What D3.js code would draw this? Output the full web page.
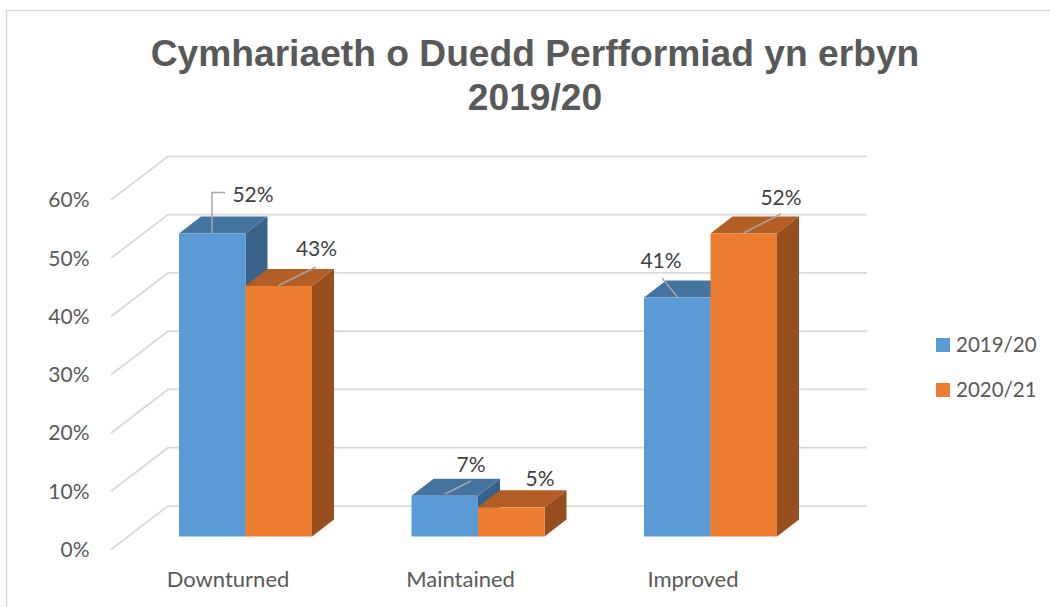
<!DOCTYPE html>
<html><head><meta charset="utf-8">
<script src="https://cdn.jsdelivr.net/npm/d3@7"></script>
<style>html,body{margin:0;padding:0;background:#fff}svg{display:block}text{font-family:Lato,"Open Sans",sans-serif}</style>
</head><body><svg id="c" width="1050" height="607"></svg>
<script>
const titleLines = ["Cymhariaeth o Duedd Perfformiad yn erbyn", "2019/20"];
const categories = ["Downturned", "Maintained", "Improved"];
const seriesNames = ["2019/20", "2020/21"];
const values2019 = [0.52, 0.07, 0.41];
const values2020 = [0.43, 0.05, 0.52];
const ticks = [0, 0.1, 0.2, 0.3, 0.4, 0.5, 0.6];
const colors = {"2019/20": ["#5b9bd5", "#44749f", "#386288"], "2020/21": ["#ed7d31", "#b25e25", "#974f1f"]};

const svg = d3.select("#c");
const x = d3.scaleBand().domain(categories).range([129.25, 826.75]).paddingInner(0.428).paddingOuter(0.214);
const xs = d3.scaleBand().domain(seriesNames).range([0, x.bandwidth()]);
const y = d3.scaleLinear().domain([0, 0.6]).range([536.5, 186.9]);
const dx = 22, dy = 17;

// frame
svg.append("path").attr("d", "M6.5 607V10.5H1050").attr("fill", "none").attr("stroke", "#d9d9d9").attr("stroke-width", 1.5);

// title
svg.append("g").selectAll("text").data(titleLines).join("text")
  .attr("x", 535).attr("y", (d, i) => 65.5 + i * 44.5).attr("text-anchor", "middle")
  .style("font-family", "'Liberation Sans',Arial,sans-serif").style("font-weight", "bold").style("font-size", "37.2px")
  .attr("fill", "#595959").text(d => d);

// gridlines
const grid = svg.append("g").attr("fill", "none").attr("stroke", "#d9d9d9").attr("stroke-width", 1.75);
grid.selectAll("path").data(ticks).join("path")
  .attr("d", d => `M111 ${y(d) + 13}L168 ${y(d) - 30.5}H867`);

// axis labels
svg.append("g").selectAll("text").data(ticks).join("text")
  .attr("x", 89.5).attr("y", d => y(d) + 20.5).attr("text-anchor", "end")
  .style("font-size", "21px").attr("fill", "#595959").text(d => d3.format(".0%")(d));
svg.append("g").selectAll("text").data(categories).join("text")
  .attr("x", (d, i) => [228, 460.5, 693][i]).attr("y", 587).attr("text-anchor", "middle")
  .style("font-size", "22px").attr("fill", "#595959").text(d => d);

// bars
const rows = [];
seriesNames.forEach((s, si) => categories.forEach((c, ci) => rows.push({s, c, v: (si ? values2020 : values2019)[ci]})));
const bars = svg.append("g").selectAll("g").data(rows).join("g");
const X = d => x(d.c) + xs(d.s), W = xs.bandwidth();
bars.append("path").attr("fill", d => colors[d.s][1])
  .attr("d", d => `M${X(d)} ${y(d.v)}l${dx} ${-dy}h${W}l${-dx} ${dy}z`);
bars.append("path").attr("fill", d => colors[d.s][2])
  .attr("d", d => `M${X(d) + W} ${y(d.v)}l${dx} ${-dy}V${y(0) - dy}l${-dx} ${dy}z`);
bars.append("rect").attr("fill", d => colors[d.s][0])
  .attr("x", X).attr("y", d => y(d.v)).attr("width", W).attr("height", d => y(0) - y(d.v));
// redraw 2020 bars above so they cover 2019 sides
svg.selectAll("g > g").filter(d => d && d.s === seriesNames[1]).raise();

// data labels with leader lines
const labelPos = [[253, 201.5], [316.5, 256], [471, 472], [540, 486], [661, 268], [781, 205]];
const leaders = [
  [[212, 233], [212, 192.5], [225, 192.5]],
  [[278.5, 285.5], [316, 267]],
  [[445, 494], [471, 481]],
  null,
  [[677.5, 297], [662, 278]],
  [[743.5, 233], [781, 214]]
];
const lab = svg.append("g");
lab.selectAll("path").data(leaders.filter(Boolean)).join("path")
  .attr("d", d3.line()).attr("fill", "none").attr("stroke", "#a6a6a6").attr("stroke-width", 1.5);
lab.selectAll("text").data(rows).join("text")
  .attr("x", (d, i) => labelPos[[0, 2, 4, 1, 3, 5][i]][0]).attr("y", (d, i) => labelPos[[0, 2, 4, 1, 3, 5][i]][1])
  .attr("text-anchor", "middle").style("font-size", "21px").attr("fill", "#404040")
  .text(d => d3.format(".0%")(d.v));

// legend
const leg = svg.append("g").selectAll("g").data(seriesNames).join("g")
  .attr("transform", (d, i) => `translate(936,${338 + i * 45})`);
leg.append("rect").attr("width", 14).attr("height", 14).attr("fill", d => colors[d][0]);
leg.append("text").attr("x", 20).attr("y", 14).style("font-size", "20.5px").attr("fill", "#595959").text(d => d);
</script></body></html>
